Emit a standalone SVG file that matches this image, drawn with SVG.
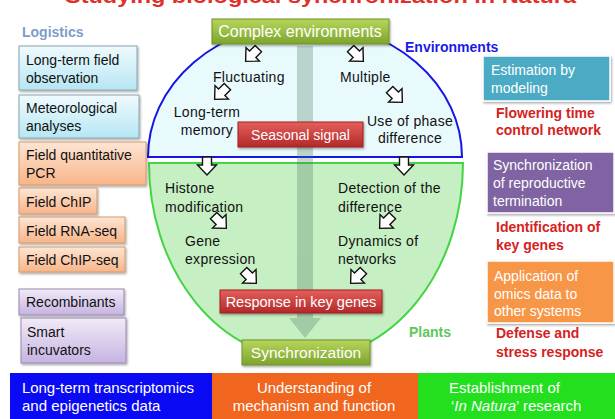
<svg xmlns="http://www.w3.org/2000/svg" width="615" height="419" viewBox="0 0 615 419">
<defs>
<style>
text{font-family:"Liberation Sans",Arial,sans-serif;}
.t{font-size:14px;fill:#111;letter-spacing:0.3px}
.w{font-size:14px;fill:#fff}
.r{font-size:14px;fill:#d42222;font-weight:bold}
.lb{font-size:14px;fill:#111}
.bb{font-size:15px;fill:#fff}
.ha{fill:#fff;stroke:#111;stroke-width:1.4;stroke-linejoin:miter}
</style>
<linearGradient id="gG" x1="0" y1="0" x2="0" y2="1"><stop offset="0" stop-color="#b7d65c"/><stop offset="1" stop-color="#7da42c"/></linearGradient>
<linearGradient id="gR" x1="0" y1="0" x2="0" y2="1"><stop offset="0" stop-color="#e4605b"/><stop offset="1" stop-color="#b3282a"/></linearGradient>
<linearGradient id="gB" x1="0" y1="0" x2="0" y2="1"><stop offset="0" stop-color="#effbfe"/><stop offset="1" stop-color="#b6e6f4"/></linearGradient>
<linearGradient id="gO" x1="0" y1="0" x2="0" y2="1"><stop offset="0" stop-color="#fde6d4"/><stop offset="1" stop-color="#f8b488"/></linearGradient>
<linearGradient id="gP" x1="0" y1="0" x2="0" y2="1"><stop offset="0" stop-color="#f1ebf8"/><stop offset="1" stop-color="#c6b3e2"/></linearGradient>
<filter id="sh" x="-10%" y="-20%" width="125%" height="150%"><feDropShadow dx="1" dy="1.5" stdDeviation="1" flood-color="#000" flood-opacity="0.35"/></filter>
<path id="ar" d="M-4.5,-9 H4.5 V-1 H9.5 L0,9 L-9.5,-1 H-4.5 Z"/>
</defs>
<rect width="615" height="419" fill="#fff"/>

<text x="65" y="3" font-size="21" font-weight="bold" fill="#e0302a" textLength="511" lengthAdjust="spacingAndGlyphs">Studying biological synchronization in Natura</text>

<g id="environments">
<path d="M148,157 A157,134 0 0 1 462,157 Z" fill="#e9fafd" stroke="#1515e6" stroke-width="2"/>
<text x="405" y="52" font-size="14" font-weight="bold" fill="#1a1ae6">Environments</text>
</g>
<g id="plants">
<path d="M149,163 L463,163 A157,196 0 0 1 149,163 Z" fill="#c6efc3" stroke="#44d444" stroke-width="2"/>
<text x="409" y="337" font-size="14" font-weight="bold" fill="#5cc85c">Plants</text>
</g>

<g id="connectors">
<g opacity="0.3" fill="#4f7a60">
<rect x="297" y="46" width="16" height="272"/>
<polygon points="289,318 321,318 305,338"/>
</g>
<g class="ha">
<use href="#ar" transform="translate(252,55) rotate(45)"/>
<use href="#ar" transform="translate(357,55) rotate(-45)"/>
<use href="#ar" transform="translate(221,93) rotate(45)"/>
<use href="#ar" transform="translate(396,96) rotate(-45)"/>
<use href="#ar" transform="translate(207,166)"/>
<use href="#ar" transform="translate(404,166)"/>
<use href="#ar" transform="translate(220,222) rotate(-45)"/>
<use href="#ar" transform="translate(250,277) rotate(-45)"/>
<use href="#ar" transform="translate(386,222) rotate(45)"/>
<use href="#ar" transform="translate(357,277) rotate(45)"/>
</g>
</g>

<g id="complex-environments">
<rect x="212" y="19" width="177" height="25" fill="url(#gG)" stroke="#6f9228" stroke-width="1" filter="url(#sh)"/>
<text x="300" y="37" font-size="16" fill="#fff" text-anchor="middle">Complex environments</text>
</g>
<g id="fluctuating"><text class="t" x="213" y="82">Fluctuating</text></g>
<g id="multiple"><text class="t" x="340" y="82">Multiple</text></g>
<g id="long-term-memory"><text class="t" x="207" y="117" text-anchor="middle">Long-term</text><text class="t" x="207" y="135" text-anchor="middle">memory</text></g>
<g id="use-of-phase"><text class="t" x="410" y="126" text-anchor="middle">Use of phase</text><text class="t" x="410" y="143" text-anchor="middle">difference</text></g>
<g id="seasonal-signal">
<rect x="238" y="122" width="125" height="25" fill="url(#gR)" stroke="#a02020" stroke-width="1" filter="url(#sh)"/>
<text class="w" x="300.5" y="139.5" text-anchor="middle">Seasonal signal</text>
</g>
<g id="histone"><text class="t" x="165" y="193">Histone</text><text class="t" x="165" y="212">modification</text></g>
<g id="gene-expression"><text class="t" x="185" y="246">Gene</text><text class="t" x="185" y="264">expression</text></g>
<g id="detection"><text class="t" x="338" y="193">Detection of the</text><text class="t" x="338" y="212">difference</text></g>
<g id="dynamics"><text class="t" x="338" y="246">Dynamics of</text><text class="t" x="338" y="264">networks</text></g>
<g id="response">
<rect x="220" y="290" width="162" height="23" fill="url(#gR)" stroke="#a02020" stroke-width="1" filter="url(#sh)"/>
<text x="301" y="306.5" font-size="14.5" fill="#fff" text-anchor="middle">Response in key genes</text>
</g>
<g id="synchronization">
<rect x="242" y="340" width="128" height="25" fill="url(#gG)" stroke="#6f9228" stroke-width="1" filter="url(#sh)"/>
<text x="306" y="358" font-size="15.5" fill="#fff" text-anchor="middle">Synchronization</text>
</g>

<g id="logistics"><text x="22" y="37" font-size="14" font-weight="bold" fill="#7f9ccc">Logistics</text></g>
<g id="long-term-field">
<rect x="19" y="46" width="118" height="44" fill="url(#gB)" stroke="#8aa4ae" filter="url(#sh)"/>
<text class="lb" x="26" y="65">Long-term field</text><text class="lb" x="26" y="83">observation</text>
</g>
<g id="meteorological">
<rect x="19" y="95" width="120" height="43" fill="url(#gB)" stroke="#8aa4ae" filter="url(#sh)"/>
<text class="lb" x="26" y="113">Meteorological</text><text class="lb" x="26" y="131">analyses</text>
</g>
<g id="field-qpcr">
<rect x="19" y="142" width="127" height="43" fill="url(#gO)" stroke="#d39a6c" filter="url(#sh)"/>
<text class="lb" x="26" y="160">Field quantitative</text><text class="lb" x="26" y="178">PCR</text>
</g>
<g id="field-chip">
<rect x="19" y="188" width="78" height="26" fill="url(#gO)" stroke="#d39a6c" filter="url(#sh)"/>
<text class="lb" x="26" y="207">Field ChIP</text>
</g>
<g id="field-rnaseq">
<rect x="19" y="217" width="106" height="26" fill="url(#gO)" stroke="#d39a6c" filter="url(#sh)"/>
<text class="lb" x="26" y="236">Field RNA-seq</text>
</g>
<g id="field-chipseq">
<rect x="19" y="247" width="106" height="25" fill="url(#gO)" stroke="#d39a6c" filter="url(#sh)"/>
<text class="lb" x="26" y="265">Field ChIP-seq</text>
</g>
<g id="recombinants">
<rect x="19" y="289" width="105" height="26" fill="url(#gP)" stroke="#9a8ab0" filter="url(#sh)"/>
<text class="lb" x="26" y="307">Recombinants</text>
</g>
<g id="smart-incuvators">
<rect x="21" y="318" width="105" height="45" fill="url(#gP)" stroke="#9a8ab0" filter="url(#sh)"/>
<text class="lb" x="27" y="337">Smart</text><text class="lb" x="27" y="355">incuvators</text>
</g>

<g id="estimation">
<rect x="483" y="56" width="127" height="45" fill="#4babc5" stroke="#fff" stroke-width="1.5" filter="url(#sh)"/>
<text class="w" x="491" y="75">Estimation by</text><text class="w" x="491" y="93">modeling</text>
</g>
<g id="flowering"><text class="r" x="496" y="118">Flowering time</text><text class="r" x="496" y="135">control network</text></g>
<g id="sync-termination">
<rect x="487" y="152" width="127" height="61" fill="#8064a2" stroke="#fff" stroke-width="1.5" filter="url(#sh)"/>
<text class="w" x="493" y="170">Synchronization</text><text class="w" x="493" y="188">of reproductive</text><text class="w" x="493" y="206">termination</text>
</g>
<g id="identification"><text class="r" x="496" y="232">Identification of</text><text class="r" x="496" y="250">key genes</text></g>
<g id="application">
<rect x="487" y="261" width="127" height="62" fill="#f79646" stroke="#fff" stroke-width="1.5" filter="url(#sh)"/>
<text class="w" x="494" y="281">Application of</text><text class="w" x="494" y="299">omics data to</text><text class="w" x="494" y="316">other systems</text>
</g>
<g id="defense"><text class="r" x="496" y="338">Defense and</text><text class="r" x="496" y="357">stress response</text></g>

<g id="bottom-transcriptomics">
<rect x="10" y="373" width="202" height="46" fill="#0a0af5"/>
<text class="bb" x="22" y="393" textLength="172">Long-term transcriptomics</text>
<text class="bb" x="22" y="411">and epigenetics data</text>
</g>
<g id="bottom-understanding">
<rect x="212" y="373" width="206" height="46" fill="#f0661e"/>
<text class="bb" x="314" y="393" text-anchor="middle">Understanding of</text>
<text class="bb" x="314" y="411" text-anchor="middle">mechanism and function</text>
</g>
<g id="bottom-establishment">
<rect x="418" y="373" width="197" height="46" fill="#22e01e"/>
<text class="bb" x="449" y="393">Establishment of</text>
<text class="bb" x="451" y="411">‘<tspan font-style="italic">In Natura</tspan>’ research</text>
</g>
</svg>
